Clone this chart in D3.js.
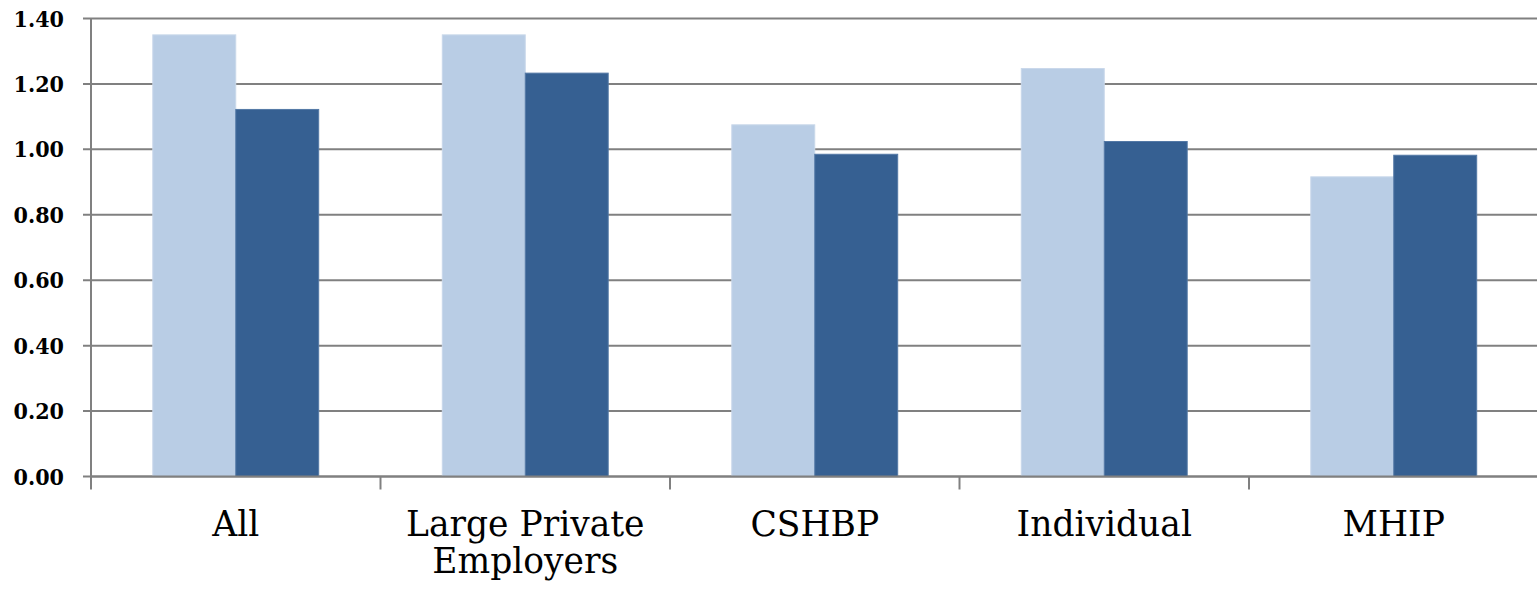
<!DOCTYPE html>
<html>
<head>
<meta charset="utf-8">
<script src="https://cdn.jsdelivr.net/npm/d3@7/dist/d3.min.js"></script>
<style>
  body { margin: 0; background: #fff; }
  svg { display: block; }
</style>
</head>
<body>
<script>
var categories = ["All", "Large Private|Employers", "CSHBP", "Individual", "MHIP"],
    seriesNames = ["A", "B"],
    seriesA = [1.35, 1.35, 1.075, 1.247, 0.916],
    seriesB = [1.122, 1.233, 0.985, 1.024, 0.982],
    yTicks = [0, 0.2, 0.4, 0.6, 0.8, 1.0, 1.2, 1.4],
    colors = ["#b9cde5", "#366092"];

var width = 1537, height = 590,
    plotLeft = 91, plotTop = 18.5, plotBottom = 476.5, bandW = 289.5;

var svg = d3.select("body").append("svg")
    .attr("width", width)
    .attr("height", height);

var y = d3.scaleLinear().domain([0, 1.4]).range([plotBottom, plotTop]);
var x = d3.scaleBand().domain(categories)
    .range([plotLeft, plotLeft + bandW * categories.length])
    .paddingInner(0).paddingOuter(0);
var x1 = d3.scaleBand().domain(seriesNames)
    .range([61.8, bandW - 61.8]).padding(0);

// grid lines
svg.append("g").selectAll("line")
    .data(yTicks)
    .enter().append("line")
    .attr("x1", plotLeft - 8)
    .attr("x2", width)
    .attr("y1", function(d) { return y(d); })
    .attr("y2", function(d) { return y(d); })
    .attr("stroke", "#808080")
    .attr("stroke-width", 2);

// y tick labels
svg.append("g").selectAll("text")
    .data(yTicks)
    .enter().append("text")
    .attr("x", 64)
    .attr("y", function(d) { return y(d) + 8; })
    .attr("text-anchor", "end")
    .style("font-family", "'DejaVu Serif Condensed', 'DejaVu Serif', serif")
    .style("font-weight", "bold")
    .style("font-size", "23px")
    .style("fill", "#000")
    .text(function(d) { return d3.format(".2f")(d); });

// bars
var rows = categories.map(function(c, i) { return { cat: c, vals: [seriesA[i], seriesB[i]] }; });
var groups = svg.append("g").selectAll("g")
    .data(rows)
    .enter().append("g")
    .attr("transform", function(d) { return "translate(" + x(d.cat) + ",0)"; });

groups.selectAll("rect")
    .data(function(d) { return d.vals.map(function(v, j) { return { s: seriesNames[j], v: v, j: j }; }); })
    .enter().append("rect")
    .attr("x", function(d) { return x1(d.s); })
    .attr("width", x1.bandwidth())
    .attr("y", function(d) { return y(d.v); })
    .attr("height", function(d) { return y(0) - y(d.v); })
    .attr("fill", function(d) { return colors[d.j]; })
    .attr("stroke", function(d) { return d.j ? "#5479a6" : "#c9d8ea"; })
    .attr("stroke-width", 1);

// axes lines
svg.append("line")
    .attr("x1", plotLeft).attr("x2", plotLeft)
    .attr("y1", plotTop).attr("y2", plotBottom + 13)
    .attr("stroke", "#808080").attr("stroke-width", 2);

svg.append("line")
    .attr("x1", plotLeft).attr("x2", width)
    .attr("y1", plotBottom).attr("y2", plotBottom)
    .attr("stroke", "#808080").attr("stroke-width", 2);

svg.append("g").selectAll("line")
    .data(categories.slice(1))
    .enter().append("line")
    .attr("x1", function(d) { return x(d); })
    .attr("x2", function(d) { return x(d); })
    .attr("y1", plotBottom)
    .attr("y2", plotBottom + 13)
    .attr("stroke", "#808080").attr("stroke-width", 2);

// category labels
var labels = svg.append("g").selectAll("text")
    .data(categories)
    .enter().append("text")
    .attr("x", function(d) { return x(d) + bandW / 2; })
    .attr("y", 536)
    .attr("text-anchor", "middle")
    .style("font-family", "'DejaVu Serif', serif")
    .style("font-size", "34.5px")
    .style("fill", "#000");

labels.each(function(d) {
    var parts = d.split("|"), t = d3.select(this);
    parts.forEach(function(p, i) {
        t.append("tspan")
            .attr("x", x(d) + bandW / 2)
            .attr("dy", i ? 37 : 0)
            .text(p);
    });
});
</script>
</body>
</html>
